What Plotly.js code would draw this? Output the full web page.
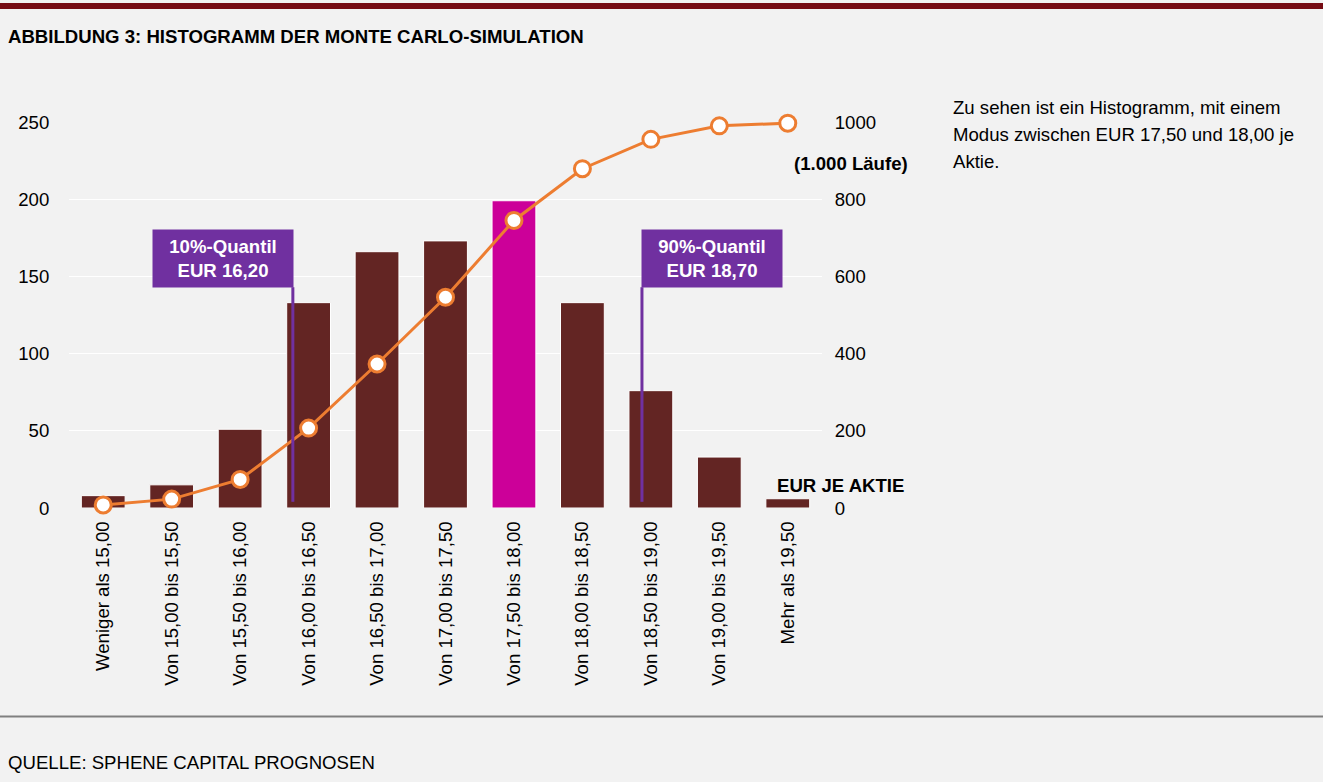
<!DOCTYPE html>
<html>
<head>
<meta charset="utf-8">
<script src="https://cdn.plot.ly/plotly-3.0.1.min.js"></script>
<style>
html,body{margin:0;padding:0;background:#f2f2f2;}
#chart{width:1323px;height:782px;}
</style>
</head>
<body>
<div id="chart"></div>
<script>
const categories = ["Weniger als 15,00","Von 15,00 bis 15,50","Von 15,50 bis 16,00","Von 16,00 bis 16,50","Von 16,50 bis 17,00","Von 17,00 bis 17,50","Von 17,50 bis 18,00","Von 18,00 bis 18,50","Von 18,50 bis 19,00","Von 19,00 bis 19,50","Mehr als 19,50"];
const counts = [8, 15, 51, 133, 166, 173, 199, 133, 76, 33, 6];
const cumulative = [8, 23, 74, 207, 373, 546, 745, 879, 955, 990, 997];
const modeCategory = "Von 17,50 bis 18,00";
const leftTicks = [0, 50, 100, 150, 200, 250];
const rightTicks = [0, 200, 400, 600, 800, 1000];
const q10Label = "10%-Quantil<br>EUR 16,20";
const q90Label = "90%-Quantil<br>EUR 18,70";
const titleText = "ABBILDUNG 3: HISTOGRAMM DER MONTE CARLO-SIMULATION";
const sourceText = "QUELLE: SPHENE CAPITAL PROGNOSEN";
const noteLines = ["Zu sehen ist ein Histogramm, mit einem", "Modus zwischen EUR 17,50 und 18,00 je", "Aktie."];

const W = 1323, H = 782;
const M = {l: 69, r: 501, t: 122, b: 274};
const pw = W - M.l - M.r, ph = H - M.t - M.b;
const px = x => (x - M.l) / pw;
const py = y => (H - M.b - y) / ph;

const FONT = "Arial, 'Liberation Sans', sans-serif";
const FS = 18.6;
const maroon = "#632523", magenta = "#cc0099", orange = "#ed7d31", purple = "#7030a0";

const barColors = categories.map(c => c === modeCategory ? magenta : maroon);

const traces = [
  {
    type: "bar", x: categories, y: counts, yaxis: "y",
    marker: {color: barColors, line: {color: "#ffffff", width: 1}},
    hoverinfo: "skip"
  },
  {
    type: "scatter", mode: "lines+markers", x: categories, y: cumulative, yaxis: "y2",
    line: {color: orange, width: 3},
    marker: {size: 16, color: "#ffffff", line: {color: orange, width: 3}},
    cliponaxis: false, hoverinfo: "skip"
  }
];

const noteAnnotations = noteLines.map((t, i) => ({
  xref: "paper", yref: "paper", x: px(951), y: py(107 + 27 * i), xanchor: "left", yanchor: "middle",
  showarrow: false, text: t, font: {family: FONT, size: FS, color: "#000"}
}));

const layout = {
  width: W, height: H,
  margin: M,
  paper_bgcolor: "#f2f2f2", plot_bgcolor: "#f2f2f2",
  font: {family: FONT, size: FS, color: "#000000"},
  showlegend: false,
  bargap: 0.36,
  xaxis: {
    type: "category", range: [-0.5, 10.5], tickangle: -90,
    showgrid: false, zeroline: false, showline: false,
    ticks: "outside", ticklen: 5, tickcolor: "rgba(0,0,0,0)",
    tickfont: {family: FONT, size: FS, color: "#000"}
  },
  yaxis: {
    range: [0, 250], tickvals: leftTicks, showgrid: true, gridcolor: "#ffffff", gridwidth: 1,
    zeroline: false, showline: false,
    ticks: "outside", ticklen: 15, tickcolor: "rgba(0,0,0,0)",
    tickfont: {family: FONT, size: FS, color: "#000"}
  },
  yaxis2: {
    overlaying: "y", side: "right", range: [0, 1000], tickvals: rightTicks,
    showgrid: false, zeroline: false, showline: false,
    ticks: "outside", ticklen: 8, tickcolor: "rgba(0,0,0,0)",
    tickfont: {family: FONT, size: FS, color: "#000"}
  },
  shapes: [
    {type: "rect", xref: "paper", yref: "paper", x0: px(0), x1: px(W), y0: py(9), y1: py(3), fillcolor: "#760c14", line: {width: 0}, layer: "above"},
    {type: "line", xref: "paper", yref: "paper", x0: px(0), x1: px(W), y0: py(716.5), y1: py(716.5), line: {color: "#808080", width: 2}},
    {type: "line", xref: "x", yref: "y", x0: 2.77, x1: 2.77, y0: 4, y1: 143, line: {color: purple, width: 3}, layer: "above"},
    {type: "line", xref: "x", yref: "y", x0: 7.87, x1: 7.87, y0: 4, y1: 143, line: {color: purple, width: 3}, layer: "above"}
  ],
  annotations: [
    {xref: "paper", yref: "paper", x: px(6), y: py(36), xanchor: "left", yanchor: "middle", showarrow: false,
     text: "<b>" + titleText + "</b>", font: {family: FONT, size: FS, color: "#000"}},
    {xref: "paper", yref: "paper", x: px(6), y: py(762), xanchor: "left", yanchor: "middle", showarrow: false,
     text: sourceText, font: {family: FONT, size: FS, color: "#000"}},
    ...noteAnnotations,
    {xref: "paper", yref: "paper", x: px(851), y: py(163), xanchor: "center", yanchor: "middle", showarrow: false,
     text: "<b>(1.000 Läufe)</b>", font: {family: FONT, size: FS, color: "#000"}},
    {xref: "paper", yref: "paper", x: px(840), y: py(485), xanchor: "center", yanchor: "middle", showarrow: false,
     text: "<b>EUR JE AKTIE</b>", font: {family: FONT, size: FS, color: "#000"}},
    {xref: "x", yref: "paper", x: 2.785, y: py(258.5), xanchor: "right", yanchor: "middle", showarrow: false,
     text: "<b>" + q10Label + "</b>", bgcolor: purple, borderpad: 4, width: 132, height: 49,
     font: {family: FONT, size: FS, color: "#ffffff"}},
    {xref: "x", yref: "paper", x: 7.85, y: py(258.5), xanchor: "left", yanchor: "middle", showarrow: false,
     text: "<b>" + q90Label + "</b>", bgcolor: purple, borderpad: 4, width: 132, height: 49,
     font: {family: FONT, size: FS, color: "#ffffff"}}
  ]
};

Plotly.newPlot("chart", traces, layout, {staticPlot: true, displayModeBar: false});
</script>
</body>
</html>
